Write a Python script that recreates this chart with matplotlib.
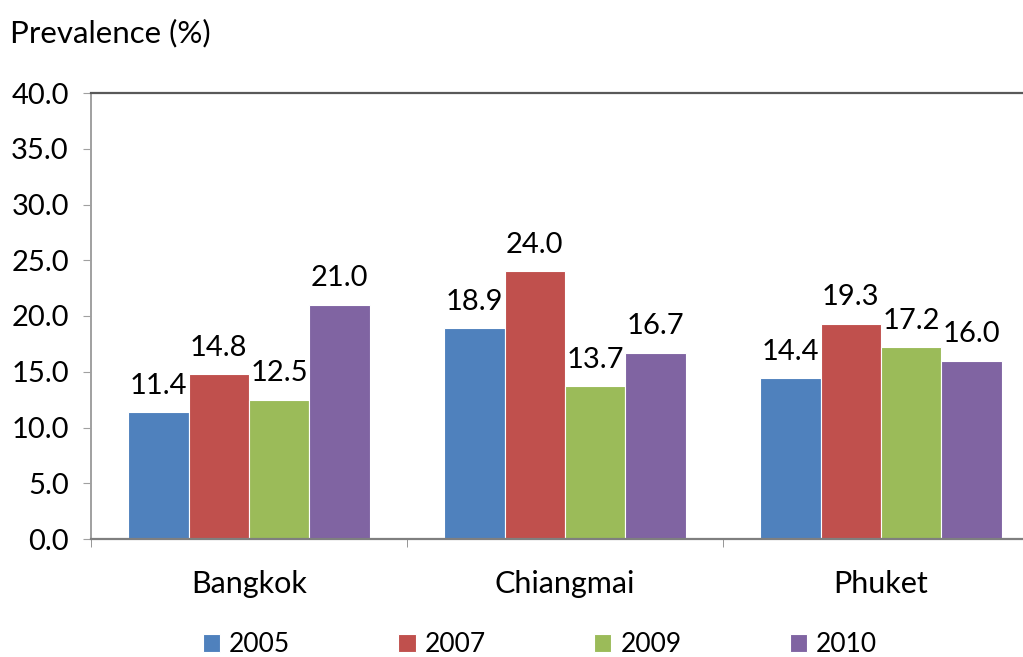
import matplotlib
matplotlib.use("Agg")
import matplotlib.pyplot as plt
import numpy as np

categories = ["Bangkok", "Chiangmai", "Phuket"]
years = ["2005", "2007", "2009", "2010"]
values = {
    "2005": [11.4, 18.9, 14.4],
    "2007": [14.8, 24.0, 19.3],
    "2009": [12.5, 13.7, 17.2],
    "2010": [21.0, 16.7, 16.0],
}
colors = ["#4F81BD", "#C0504D", "#9BBB59", "#8064A2"]
yticks = [0, 5, 10, 15, 20, 25, 30, 35, 40]

plt.rcParams['font.family'] = ['Lato', 'DejaVu Sans']

fig = plt.figure(figsize=(10.23, 6.57), dpi=100)
ax = fig.add_axes([91/1023, 1-539/657, 948/1023, (539-93)/657])

x = np.arange(len(categories))
w = 0.191
for i, (yr, c) in enumerate(zip(years, colors)):
    pos = x + (i - 1.5) * w
    ax.bar(pos, values[yr], width=w, color=c, edgecolor="white", linewidth=0.8, label=yr)
    for p, v in zip(pos, values[yr]):
        ax.text(p, v + 1.2, f"{v:.1f}", ha="center", va="bottom", fontsize=21)

ax.set_xlim(-0.5, 2.5)
ax.set_ylim(0, 40)
ax.set_yticks(yticks)
ax.set_yticklabels([f"{t:.1f}" for t in yticks], fontsize=21)
ax.set_xticks(x)
ax.set_xticklabels(categories, fontsize=22)
ax.tick_params(axis="x", length=0, pad=22)
ax.set_xticks([-0.5, 0.5, 1.5, 2.5], minor=True)
ax.tick_params(axis="x", which="minor", length=6, color="#868686")
ax.tick_params(axis="y", length=6, color="#A0A0A0", pad=10)
ax.spines["right"].set_visible(False)
ax.spines["top"].set_color("#595959")
ax.spines["top"].set_linewidth(1.6)
ax.spines["left"].set_color("#A0A0A0")
ax.spines["left"].set_linewidth(1.4)
ax.spines["bottom"].set_color("#7F7F7F")
ax.spines["bottom"].set_linewidth(1.6)

fig.text(10/1023, 1-33/657, "Prevalence (%)", fontsize=22.5, va="center", ha="left")

fig.legend(loc="center", bbox_to_anchor=(540/1023, 1-645/657), ncol=4, frameon=False,
           fontsize=19, handlelength=0.65, handleheight=0.65, columnspacing=4.1, handletextpad=0.35)

fig.savefig("out.png", dpi=100)
